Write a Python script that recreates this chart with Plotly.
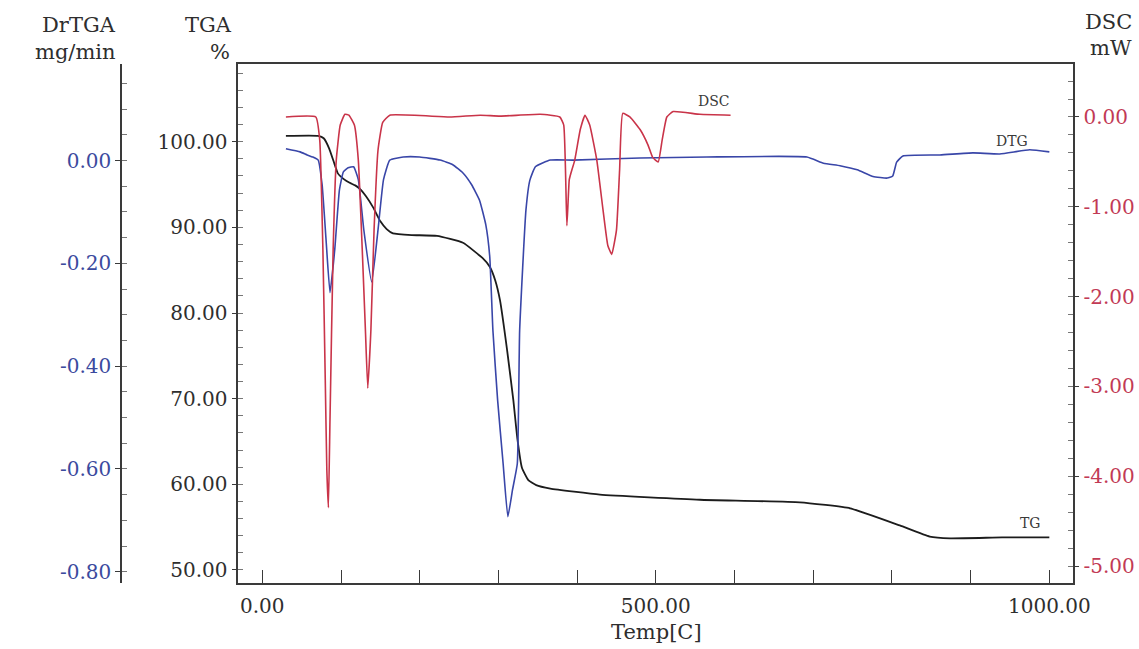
import plotly.graph_objects as go

# ---- TG curve: mass remaining (%) vs temperature (C)
tg_temp = [30, 71, 78, 85, 91, 96, 104, 111, 118, 124, 132, 141, 150, 158,
           166, 190, 222, 255, 280, 289, 296, 302, 311, 319, 324, 330, 338,
           348, 366, 429, 556, 683, 747, 810, 848, 874, 940, 1000]
tg_mass = [100.67, 100.67, 100.4, 99.2, 97.6, 96.3, 95.6, 95.2, 94.9, 94.5,
           93.6, 92.3, 90.7, 89.8, 89.3, 89.1, 89.0, 88.2, 86.4, 85.4, 83.8,
           81.5, 75.7, 69.8, 65.4, 61.9, 60.5, 59.9, 59.5, 58.8, 58.2, 57.9,
           57.2, 55.2, 53.9, 53.7, 53.8, 53.8]

# ---- DTG curve: mass-loss rate (mg/min)
dtg_temp = [30, 48, 57, 64, 71, 76, 81, 86, 92, 98, 103, 109, 116, 122, 129,
            139, 147, 154, 162, 179, 200, 226, 242, 255, 266, 276, 284, 289,
            293, 299, 306, 312, 318, 324, 327, 335, 340, 347, 366, 395, 480,
            565, 692, 713, 734, 756, 776, 794, 801, 806, 814, 861, 903, 937,
            975, 1000]
dtg_rate = [0.023, 0.017, 0.011, 0.007, 0.001, -0.047, -0.154, -0.257, -0.174,
            -0.057, -0.022, -0.014, -0.012, -0.037, -0.135, -0.236, -0.135,
            -0.037, 0.001, 0.007, 0.007, 0.001, -0.008, -0.024, -0.047,
            -0.077, -0.125, -0.187, -0.33, -0.466, -0.59, -0.693, -0.64,
            -0.59, -0.33, -0.096, -0.038, -0.012, 0.001, 0.001, 0.005, 0.007,
            0.007, -0.005, -0.010, -0.018, -0.031, -0.034, -0.030, -0.003,
            0.009, 0.011, 0.015, 0.013, 0.021, 0.017]

# ---- DSC curve: heat flow (mW)
dsc_temp = [30, 68, 73, 77, 80, 82, 84, 86, 90, 94, 99, 105, 110, 117, 122,
            127, 131, 134, 138, 142, 147, 153, 162, 238, 277, 302, 353, 378,
            383, 387, 390, 392, 397, 404, 410, 416, 425, 433, 439, 444, 450,
            454, 458, 467, 480, 490, 496, 503, 508, 514, 522, 556, 595]
dsc_heat = [0.0, 0.0, -0.26, -1.48, -2.93, -3.93, -4.35, -3.37, -1.48, -0.48,
            -0.09, 0.03, 0.02, -0.09, -0.48, -1.48, -2.37, -3.02, -2.37,
            -1.26, -0.37, -0.06, 0.02, 0.0, 0.02, 0.01, 0.03, 0.0, -0.09,
            -1.21, -0.70, -0.63, -0.48, -0.14, 0.02, -0.09, -0.48, -1.04,
            -1.43, -1.53, -1.26, -0.59, 0.04, 0.0, -0.14, -0.31, -0.45, -0.50,
            -0.26, 0.0, 0.06, 0.03, 0.02]

# ---- axis ticks and their labels
temp_ticks = [0, 500, 1000]
temp_labels = ["0.00", "500.00", "1000.00"]
tga_ticks = [50, 60, 70, 80, 90, 100]
tga_labels = ["50.00", "60.00", "70.00", "80.00", "90.00", "100.00"]
dtg_ticks = [-0.8, -0.6, -0.4, -0.2, 0.0]
dtg_labels = ["-0.80", "-0.60", "-0.40", "-0.20", "0.00"]
dsc_ticks = [-5, -4, -3, -2, -1, 0]
dsc_labels = ["-5.00", "-4.00", "-3.00", "-2.00", "-1.00", "0.00"]

W, H = 1139, 649
FONT = "DejaVu Serif"
AX = "#3a3a3a"
RED = "#c93449"
BLUE = "#3946a8"
BLACK = "#1c1c1c"
RED_TXT = "#c23a55"
BLUE_TXT = "#3b4a9e"
GREY_TXT = "#2e2e2e"


def px(x):
    return x / W


def py(y):
    return 1 - y / H


fig = go.Figure()
fig.add_trace(go.Scatter(x=dsc_temp, y=dsc_heat, yaxis="y3", mode="lines",
                         line=dict(color=RED, width=1.6, shape="spline", smoothing=0.4),
                         name="DSC"))
fig.add_trace(go.Scatter(x=dtg_temp, y=dtg_rate, yaxis="y2", mode="lines",
                         line=dict(color=BLUE, width=1.6, shape="spline", smoothing=0.4),
                         name="DTG"))
fig.add_trace(go.Scatter(x=tg_temp, y=tg_mass, yaxis="y", mode="lines",
                         line=dict(color=BLACK, width=1.8, shape="spline", smoothing=0.4),
                         name="TG"))

x0, x1 = px(238.3), px(1072.7)
y0, y1 = py(583), py(64)

fig.update_layout(
    width=W, height=H,
    margin=dict(l=0, r=0, t=0, b=0, autoexpand=False),
    paper_bgcolor="white", plot_bgcolor="white",
    showlegend=False,
    font=dict(family=FONT, size=20, color=GREY_TXT),
    xaxis=dict(domain=[x0, x1], range=[-30.5, 1029.7], automargin=False,
               showline=True, linecolor=AX, linewidth=1.5, mirror=True,
               showgrid=False, zeroline=False,
               tickmode="array", tickvals=temp_ticks, ticktext=temp_labels,
               ticks="inside", ticklen=13, tickwidth=1, tickcolor=AX,
               minor=dict(dtick=100, tick0=0, ticks="inside", ticklen=13,
                          tickwidth=1, tickcolor=AX),
               ticklabelstandoff=4,
               tickfont=dict(family=FONT, size=20, color=GREY_TXT)),
    yaxis=dict(domain=[y0, y1], anchor="x", range=[48.48, 109.07],
               automargin=False,
               showline=True, linecolor=AX, linewidth=1.5,
               showgrid=False, zeroline=False,
               tickmode="array", tickvals=tga_ticks, ticktext=tga_labels,
               ticks="outside", ticklen=5, tickwidth=1, tickcolor=AX,
               minor=dict(dtick=2, tick0=0, ticks="inside", ticklen=5,
                          tickwidth=1, tickcolor="#777"),
               tickfont=dict(family=FONT, size=20, color=GREY_TXT)),
    yaxis2=dict(overlaying="y", anchor="free", position=px(121), side="left",
                range=[-0.822, 0.188], automargin=False,
                showline=True, linecolor=AX, linewidth=1.5,
                showgrid=False, zeroline=False,
                tickmode="array", tickvals=dtg_ticks, ticktext=dtg_labels,
                ticks="outside", ticklen=5, tickwidth=1, tickcolor=AX,
                minor=dict(dtick=0.05, tick0=0, ticks="inside", ticklen=5,
                           tickwidth=1, tickcolor="#777"),
                tickfont=dict(family=FONT, size=20, color=BLUE_TXT)),
    yaxis3=dict(overlaying="y", anchor="x", side="right",
                range=[-5.189, 0.590], automargin=False,
                showline=True, linecolor=AX, linewidth=1.5,
                showgrid=False, zeroline=False,
                tickmode="array", tickvals=dsc_ticks, ticktext=dsc_labels,
                ticks="outside", ticklen=5, tickwidth=1, tickcolor=AX,
                minor=dict(dtick=0.2, tick0=0, ticks="inside", ticklen=5,
                           tickwidth=1, tickcolor="#777"),
                tickfont=dict(family=FONT, size=20, color=RED_TXT)),
)


def label(text, x, y, size=20, color=GREY_TXT, xanchor="center"):
    fig.add_annotation(text=text, x=px(x), y=py(y), xref="paper", yref="paper",
                       showarrow=False, xanchor=xanchor, yanchor="middle",
                       font=dict(family=FONT, size=size, color=color))


# axis titles
label("DrTGA", 118, 25, size=21, xanchor="right")
label("mg/min", 118, 52, size=21, xanchor="right")
label("TGA", 234, 25, size=21, xanchor="right")
label("%", 232, 52, size=21, xanchor="right")
label("DSC", 1134, 22, size=21, xanchor="right")
label("mW", 1134, 48, size=21, xanchor="right")
label("Temp[C]", 657, 632, size=21)

# curve labels
label("DSC", 714, 101, size=14, color="#3a3a3a")
label("DTG", 1012, 141, size=14, color="#3a3a3a")
label("TG", 1030, 523, size=14, color="#3a3a3a")

fig.write_html("out.html")
